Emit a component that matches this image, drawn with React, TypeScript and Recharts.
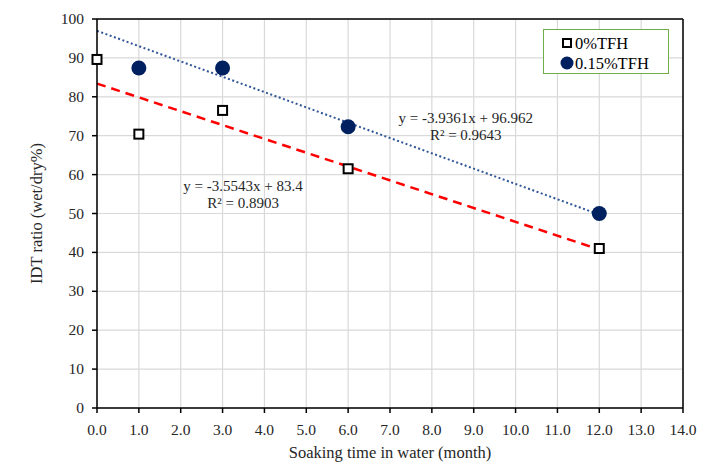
import React from "react";
import {
  ComposedChart,
  Scatter,
  Line,
  XAxis,
  YAxis,
  CartesianGrid,
  ReferenceLine,
  ReferenceDot,
  Label,
} from "recharts";

// measured points
const months0 = [0, 1, 3, 6, 12];
const idt0 = [89.6, 70.4, 76.5, 61.5, 41.0];
const months15 = [1, 3, 6, 12];
const idt15 = [87.4, 87.4, 72.3, 50.0];

// trendline ends (x = 0 and x = 12)
const trendX = [0, 12];
const trend0 = [83.4, 40.75];
const trend15 = [96.96, 49.73];

const xTicks = [0, 1, 2, 3, 4, 5, 6, 7, 8, 9, 10, 11, 12, 13, 14];
const yTicks = [0, 10, 20, 30, 40, 50, 60, 70, 80, 90, 100];

const FONT = "'Times New Roman', 'Liberation Serif', serif";
const TXT = "#262626";

const toPoints = (xs: number[], ys: number[]) => xs.map((x, i) => ({ x, y: ys[i] }));

const data0 = toPoints(months0, idt0);
const data15 = toPoints(months15, idt15);
const line0 = toPoints(trendX, trend0);
const line15 = toPoints(trendX, trend15);

const Square = (props: any) => {
  const { cx, cy } = props;
  if (cx == null || cy == null) return null;
  return <rect x={cx - 4.5} y={cy - 4.5} width={9} height={9} fill="#fff" stroke="#000" strokeWidth={2} />;
};

const Dot = (props: any) => {
  const { cx, cy } = props;
  if (cx == null || cy == null) return null;
  return <circle cx={cx} cy={cy} r={7.5} fill="#002060" />;
};

const XTick = (props: any) => {
  const { x, y, payload } = props;
  return (
    <text x={x} y={y + 20} textAnchor="middle" fontFamily={FONT} fontSize={15.5} fill={TXT}>
      {Number(payload.value).toFixed(1)}
    </text>
  );
};

const YTick = (props: any) => {
  const { x, y, payload } = props;
  return (
    <text x={x} y={y + 5} textAnchor="end" fontFamily={FONT} fontSize={15.5} fill={TXT}>
      {payload.value}
    </text>
  );
};

const XTitle = (props: any) => {
  const { viewBox } = props;
  return (
    <text x={viewBox.x + viewBox.width / 2} y={458} textAnchor="middle" fontFamily={FONT} fontSize={16.5} fill={TXT}>
      Soaking time in water (month)
    </text>
  );
};

const YTitle = (props: any) => {
  const { viewBox } = props;
  const cy = viewBox.y + viewBox.height / 2;
  return (
    <text x={36} y={cy} transform={`rotate(-90 36 ${cy})`} textAnchor="middle" dominantBaseline="central" fontFamily={FONT} fontSize={16.5} fill={TXT}>
      IDT ratio (wet/dry%)
    </text>
  );
};

// legend drawn as an overlay box so it doesn't eat plot space
const LegendBox = () => (
  <div
    style={{
      position: "absolute",
      left: 543,
      top: 29,
      width: 124,
      height: 43,
      border: "1.5px solid #70ad47",
      background: "#fff",
    }}
  >
    <svg width={124} height={43} style={{ display: "block" }}>
      <rect x={19} y={9} width={8} height={8} fill="#fff" stroke="#000" strokeWidth={2} />
      <text x={31} y={19} fontFamily={FONT} fontSize={16.5} fill="#000">0%TFH</text>
      <circle cx={23} cy={33} r={6.5} fill="#002060" />
      <text x={31} y={39} fontFamily={FONT} fontSize={16.5} fill="#000">0.15%TFH</text>
    </svg>
  </div>
);

const eqLabel = (lines: string[]) => (props: any) => {
  const { viewBox } = props;
  const cx = viewBox.x + (viewBox.width || 0) / 2;
  const cy = viewBox.y + (viewBox.height || 0) / 2;
  return (
    <text x={cx} y={cy} textAnchor="middle" fontFamily={FONT} fontSize={15} fill={TXT}>
      <tspan x={cx} dy={0}>{lines[0]}</tspan>
      <tspan x={cx} dy={17}>{lines[1]}</tspan>
    </text>
  );
};

export default function App() {
  return (
    <div style={{ position: "absolute", left: 0, top: 0, width: 713, height: 470, fontFamily: FONT }}>
      <ComposedChart width={713} height={470} margin={{ top: 19, right: 30, left: 0, bottom: 0 }}>
        <CartesianGrid stroke="#d9d9d9" strokeWidth={1.2} />
        <XAxis
          type="number"
          dataKey="x"
          domain={[0, 14]}
          ticks={xTicks}
          height={62}
          axisLine={{ stroke: "#000", strokeWidth: 1.5 }}
          tickLine={{ stroke: "#000", strokeWidth: 1.5 }}
          tickSize={5}
          tickMargin={2}
          tick={<XTick />}
        >
          <Label content={<XTitle />} />
        </XAxis>
        <YAxis
          type="number"
          dataKey="y"
          domain={[0, 100]}
          ticks={yTicks}
          width={97}
          axisLine={{ stroke: "#000", strokeWidth: 1.5 }}
          tickLine={{ stroke: "#000", strokeWidth: 1.5 }}
          tickSize={5}
          tickMargin={8}
          tick={<YTick />}
        >
          <Label content={<YTitle />} />
        </YAxis>
        <ReferenceLine y={100} stroke="#000" strokeWidth={1.5} />
        <ReferenceLine x={14} stroke="#000" strokeWidth={1.5} />
        <Line
          data={line15}
          dataKey="y"
          type="linear"
          stroke="#2f5597"
          strokeWidth={2}
          strokeDasharray="2 2.5"
          dot={false}
          activeDot={false}
          isAnimationActive={false}
        />
        <Line
          data={line0}
          dataKey="y"
          type="linear"
          stroke="#ff0000"
          strokeWidth={2.5}
          strokeDasharray="9 6"
          dot={false}
          activeDot={false}
          isAnimationActive={false}
        />
        <Scatter name="0%TFH" data={data0} shape={Square} isAnimationActive={false} />
        <Scatter name="0.15%TFH" data={data15} shape={Dot} isAnimationActive={false} />
        <ReferenceDot x={8.81} y={73.3} r={0} fill="none" stroke="none" label={eqLabel(["y = -3.9361x + 96.962", "R² = 0.9643"])} />
        <ReferenceDot x={3.49} y={55.8} r={0} fill="none" stroke="none" label={eqLabel(["y = -3.5543x + 83.4", "R² = 0.8903"])} />
      </ComposedChart>
      <LegendBox />
    </div>
  );
}
